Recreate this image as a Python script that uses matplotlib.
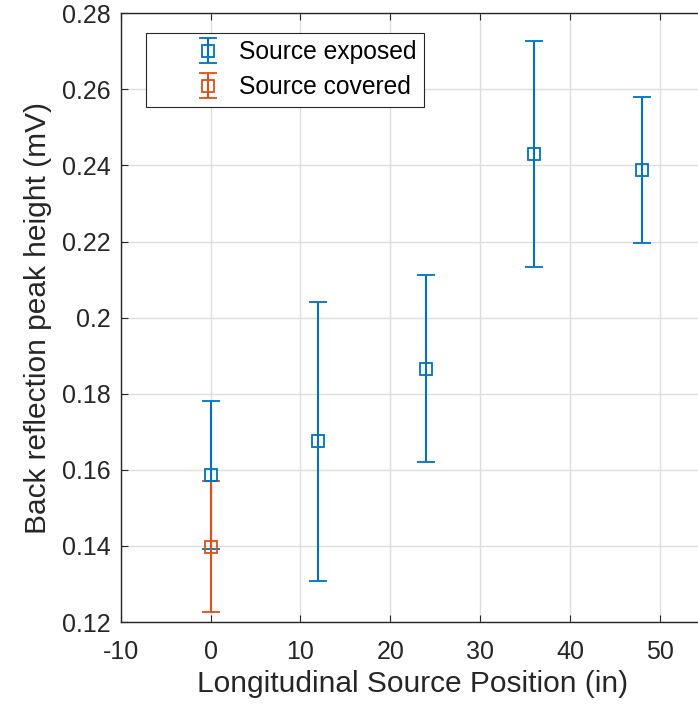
import matplotlib.pyplot as plt

plt.rcParams['font.family'] = ['Liberation Sans', 'DejaVu Sans']
plt.rcParams['axes.unicode_minus'] = False

# peak heights with symmetric error (mV) vs source position (in)
pos_exposed = [0, 12, 24, 36, 48]
peak_exposed = [0.1587, 0.1675, 0.1866, 0.2430, 0.2388]
err_exposed = [0.0195, 0.0367, 0.0245, 0.0297, 0.0193]

pos_covered = [0]
peak_covered = [0.1398]
err_covered = [0.0173]

blue = '#0072BD'
orange = '#D95319'
ink = '#262626'

fig = plt.figure(figsize=(6.98, 7.09), dpi=100)
# right edge of the axes sits just past the figure edge
ax = fig.add_axes([0.1729, 0.1227, 0.8367, 0.8586])

ax.errorbar(pos_exposed, peak_exposed, yerr=err_exposed, fmt='s', color=blue,
            mfc='none', ms=8, mew=1.3, elinewidth=1.5, capsize=6.5, capthick=1.5,
            label='Source exposed')
ax.errorbar(pos_covered, peak_covered, yerr=err_covered, fmt='s', color=orange,
            mfc='none', ms=8, mew=1.3, elinewidth=1.5, capsize=6.5, capthick=1.5,
            label='Source covered')

ax.set_xlim(-10, 55)
ax.set_ylim(0.12, 0.28)
ax.set_xticks(range(-10, 51, 10))
ax.set_yticks([0.12, 0.14, 0.16, 0.18, 0.2, 0.22, 0.24, 0.26, 0.28])
ax.set_yticklabels(['0.12', '0.14', '0.16', '0.18', '0.2', '0.22', '0.24', '0.26', '0.28'])
ax.grid(True, color='#dedede', linewidth=1)
ax.set_axisbelow(True)
ax.tick_params(direction='in', top=True, right=True, labelsize=18,
               colors=ink, length=5, width=0.8)
ax.tick_params(axis='x', pad=13)
ax.tick_params(axis='y', pad=7)
for s in ax.spines.values():
    s.set_color(ink)
    s.set_linewidth(1)

ax.set_xlabel('Longitudinal Source Position (in)', fontsize=21.5, color=ink, labelpad=4)
ax.set_ylabel('Back reflection peak height (mV)', fontsize=21.5, color=ink, labelpad=7)

leg = ax.legend(loc='upper left', bbox_to_anchor=(0.0429, 0.968), fontsize=17.7,
                fancybox=False, edgecolor=ink, framealpha=1,
                handlelength=4.5, handletextpad=-1.0, borderpad=0.3,
                borderaxespad=0, labelspacing=0.45)
leg.get_frame().set_linewidth(0.8)

fig.savefig('out.png', dpi=100)
